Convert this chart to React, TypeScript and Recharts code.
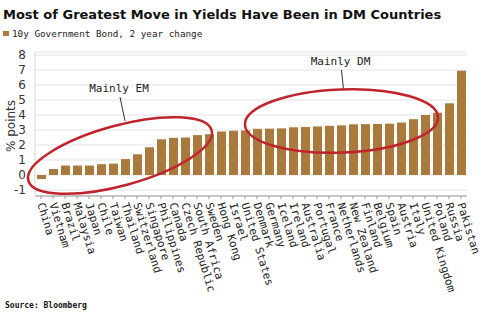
import { Bar, BarChart, CartesianGrid, ReferenceDot, XAxis, YAxis } from "recharts";

const countries = [
  "China", "Vietnam", "Brazil", "Malaysia", "Japan", "Chile", "Taiwan", "Thailand",
  "Switzerland", "Singapore", "Philippines", "Canada", "Czech Republic", "South Africa",
  "Sweden", "Hong Kong", "Israel", "United States", "Denmark", "Germany", "Iceland",
  "Ireland", "Australia", "Portugal", "France", "Netherlands", "New Zealand", "Finland",
  "Belgium", "Spain", "Austria", "Italy", "United Kingdom", "Poland", "Russia", "Pakistan"
];

const changes = [
  -0.27, 0.4, 0.63, 0.63, 0.63, 0.72, 0.76, 1.06,
  1.38, 1.85, 2.38, 2.48, 2.5, 2.66,
  2.72, 2.9, 2.95, 2.97, 3.08, 3.09, 3.11,
  3.18, 3.2, 3.24, 3.28, 3.31, 3.38, 3.39,
  3.4, 3.42, 3.5, 3.72, 4.0, 4.15, 4.78, 6.95
];

const yTicks = [-1, 0, 1, 2, 3, 4, 5, 6, 7, 8];

const data = countries.map((country, i) => ({ country, change: changes[i] }));

const BAR = "#a97a3c";
const RED = "#c0232c";
const MONO = "'DejaVu Sans Mono', monospace";

function CountryTick({ x, y, payload }: any) {
  return (
    <text
      x={x}
      y={y + 2}
      dy="0.35em"
      transform={`rotate(73, ${x}, ${y + 2})`}
      textAnchor="start"
      fontFamily={MONO}
      fontSize={11}
      fill="#222"
    >
      {payload.value}
    </text>
  );
}

// ellipse callout, drawn around the dot's position with a pixel nudge
function callout(label: string, dx: number, rx: number, ry: number, rot: number, textY: number, lineFrom: number, lineTo: number, lineDx: number) {
  return (p: any) => {
    const cx = p.cx + dx;
    const cy = p.cy;
    return (
      <g>
        <line x1={cx} y1={cy + lineFrom} x2={cx + lineDx} y2={cy + lineTo} stroke="#333" strokeWidth={1} />
        <text x={cx - 1} y={cy + textY} textAnchor="middle" fontFamily={MONO} fontSize={11} fill="#222">
          {label}
        </text>
        <ellipse
          cx={cx}
          cy={cy}
          rx={rx}
          ry={ry}
          transform={`rotate(${rot}, ${cx}, ${cy})`}
          fill="none"
          stroke={RED}
          strokeWidth={2.5}
        />
      </g>
    );
  };
}

export default function App() {
  return (
    <div
      style={{
        position: "absolute",
        left: 0,
        top: 0,
        width: 485,
        height: 321,
        background: "#fff",
        overflow: "hidden"
      }}
    >
      <div
        style={{
          position: "absolute",
          left: 3,
          top: 7,
          fontFamily: "'DejaVu Sans', sans-serif",
          fontWeight: "bold",
          fontSize: 13,
          color: "#111",
          whiteSpace: "nowrap"
        }}
      >
        Most of Greatest Move in Yields Have Been in DM Countries
      </div>
      <div
        style={{
          position: "absolute",
          left: 3,
          top: 28,
          display: "flex",
          alignItems: "center",
          fontFamily: MONO,
          fontSize: 9.3,
          color: "#222",
          whiteSpace: "nowrap"
        }}
      >
        <span style={{ display: "inline-block", width: 6, height: 5, background: BAR, marginRight: 3 }} />
        10y Government Bond, 2 year change
      </div>
      <div
        style={{
          position: "absolute",
          left: -14,
          top: 120,
          width: 50,
          textAlign: "center",
          transform: "rotate(-90deg)",
          fontFamily: "'DejaVu Sans', sans-serif",
          fontSize: 12,
          color: "#333",
          whiteSpace: "nowrap"
        }}
      >
        % points
      </div>
      <div
        style={{
          position: "absolute",
          left: 5,
          top: 301,
          fontFamily: MONO,
          fontWeight: "bold",
          fontSize: 8,
          color: "#111",
          whiteSpace: "nowrap"
        }}
      >
        Source: Bloomberg
      </div>
      <div style={{ position: "absolute", left: 0, top: 0 }}>
        <BarChart width={485} height={321} data={data} margin={{ top: 52, right: 18, bottom: 0, left: 0 }}>
          <CartesianGrid stroke="#e2e2e2" vertical={false} />
          <XAxis
            dataKey="country"
            interval={0}
            height={125}
            tick={<CountryTick />}
            tickSize={3}
            stroke="#999"
          />
          <YAxis
            type="number"
            domain={[-1.4, 8.2]}
            ticks={yTicks}
            interval={0}
            width={35}
            tickLine={false}
            stroke="#d6d6d6"
            tick={{ fill: "#333", fontSize: 12, fontFamily: "'DejaVu Sans', sans-serif" }}
            tickMargin={3}
          />
          <Bar dataKey="change" fill={BAR} barSize={9} isAnimationActive={false} />
          <ReferenceDot
            x="Taiwan"
            y={1.3}
            ifOverflow="visible"
            shape={callout("Mainly EM", 7, 95, 30, -15.3, -63.5, -58.5, -34.5, 5)}
          />
          <ReferenceDot
            x="Netherlands"
            y={3.6}
            ifOverflow="visible"
            shape={callout("Mainly DM", 0.5, 96.6, 31.6, -2.2, -56, -51, -31.7, 2)}
          />
        </BarChart>
      </div>
    </div>
  );
}
